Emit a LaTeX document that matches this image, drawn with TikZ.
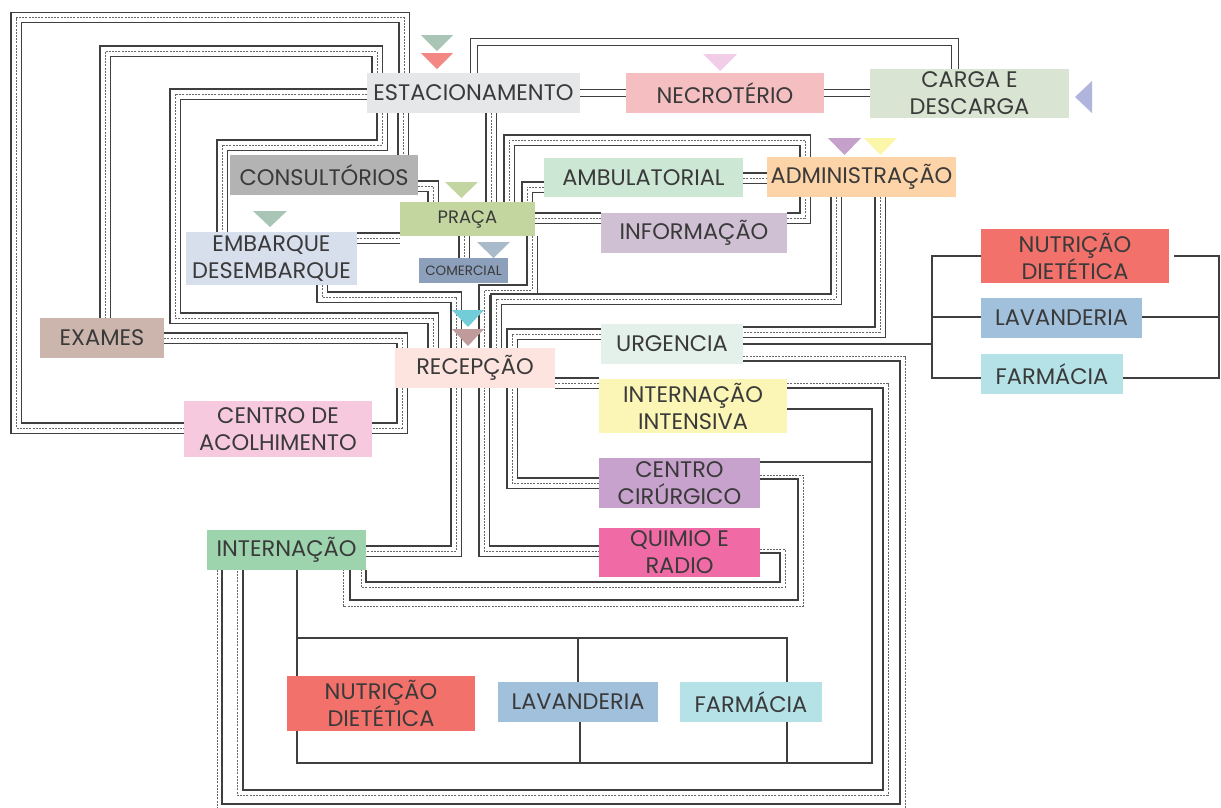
\documentclass[tikz,border=0pt]{standalone}
\usepackage{fontspec}
\setmainfont{Poppins}
\definecolor{rdark}{HTML}{3F3F3F}
\definecolor{rdash}{HTML}{666666}
\definecolor{txt}{HTML}{3A3A3A}
\definecolor{cEstac}{HTML}{E6E7E8}
\definecolor{cNecro}{HTML}{F5BFC2}
\definecolor{cCarga}{HTML}{D9E4D3}
\definecolor{cConsul}{HTML}{B3B3B3}
\definecolor{cPraca}{HTML}{C4D6A0}
\definecolor{cAmbul}{HTML}{CDE7D5}
\definecolor{cAdmin}{HTML}{FDD3A8}
\definecolor{cInfo}{HTML}{CFC0D4}
\definecolor{cEmb}{HTML}{D7DEEC}
\definecolor{cComer}{HTML}{8C9FBB}
\definecolor{cExames}{HTML}{CBB5AD}
\definecolor{cRecep}{HTML}{FDE4DF}
\definecolor{cUrg}{HTML}{E4F0EA}
\definecolor{cIntInt}{HTML}{FBF6B5}
\definecolor{cAcolh}{HTML}{F7C9DE}
\definecolor{cCir}{HTML}{C7A2CC}
\definecolor{cQuimio}{HTML}{F06BA6}
\definecolor{cIntern}{HTML}{9DD4AE}
\definecolor{cNut}{HTML}{F2716A}
\definecolor{cLav}{HTML}{A0C0DB}
\definecolor{cFarm}{HTML}{B5E2E7}
\definecolor{tGreen}{HTML}{A8C5B5}
\definecolor{tRed}{HTML}{F28784}
\definecolor{tPink}{HTML}{F2CDE8}
\definecolor{tLav}{HTML}{B1B5DD}
\definecolor{tPurp}{HTML}{C5A0CB}
\definecolor{tYel}{HTML}{FCF6A9}
\definecolor{tOlive}{HTML}{C3D5A0}
\definecolor{tBlue}{HTML}{A9BBCB}
\definecolor{tCyan}{HTML}{72CDD8}
\definecolor{tBrown}{HTML}{C09B9C}
\newcommand\myfsA{\fontsize{22.5}{27}\selectfont}
\newcommand\myfsB{\fontsize{18}{21}\selectfont}
\newcommand\myfsC{\fontsize{13.5}{16}\selectfont}
\tikzset{
  troad/.style={draw=rdark, line width=11.6pt,
    postaction={draw=white, line width=9pt},
    postaction={draw=rdash, line width=0.8pt, dash pattern=on 2pt off 1.2pt}},
  droad/.style={draw=rdark, line width=8.6pt, postaction={draw=white, line width=6pt}},
  sline/.style={draw=rdark, line width=1.4pt},
  dline/.style={draw=rdash, line width=0.9pt, dash pattern=on 2pt off 1.2pt},
  box/.style={inner sep=0pt, text=txt, align=center, font=\myfsA},
}
\begin{document}
\begin{tikzpicture}[x=1pt,y=-1pt]
\useasboundingbox (0,0) rectangle (1221,807);
% ---------- node frames (named; filled boxes drawn on top later) ----------
\path
 node[box, minimum width=213, minimum height=40] (estac) at (473.5,93) {}
 node[box, minimum width=198, minimum height=40] (necro) at (725,93) {}
 node[box, minimum width=199, minimum height=49] (carga) at (969.5,93.5) {}
 node[box, minimum width=188, minimum height=40] (consul) at (324,175) {}
 node[box, minimum width=135, minimum height=34] (praca) at (467.5,219) {}
 node[box, minimum width=199, minimum height=39] (ambul) at (643.5,177.5) {}
 node[box, minimum width=189, minimum height=40] (admin) at (861.5,177) {}
 node[box, minimum width=186, minimum height=40] (info) at (694,233) {}
 node[box, minimum width=171, minimum height=53] (emb) at (271.5,258.5) {}
 node[box, minimum width=89, minimum height=25] (comer) at (463.5,270.5) {}
 node[box, minimum width=124, minimum height=40] (exames) at (102,338) {}
 node[box, minimum width=160, minimum height=40] (recep) at (475,368) {}
 node[box, minimum width=142, minimum height=40] (urg) at (672,344) {}
 node[box, minimum width=188, minimum height=54] (intint) at (693,406) {}
 node[box, minimum width=188, minimum height=56] (acolh) at (278,429) {}
 node[box, minimum width=161, minimum height=50] (cir) at (679.5,483) {}
 node[box, minimum width=161, minimum height=49] (quimio) at (679.5,552.5) {}
 node[box, minimum width=159, minimum height=40] (intern) at (286.5,550) {}
 node[box, minimum width=188, minimum height=54] (nutR) at (1075,256) {}
 node[box, minimum width=161, minimum height=40] (lavR) at (1061.5,318) {}
 node[box, minimum width=142, minimum height=40] (farmR) at (1052,374) {}
 node[box, minimum width=188, minimum height=55] (nutB) at (381,703.5) {}
 node[box, minimum width=160, minimum height=40] (lavB) at (578,702) {}
 node[box, minimum width=142, minimum height=40] (farmB) at (751,702) {};
\coordinate (j1) at (297,638);
\coordinate (j2) at (578,638);
% ---------- triple roads ----------
\draw[troad] (estac.north -| 404,0) -- (404,17.5) -- (16,17.5) -- (16,428) -- (acolh.west |- 0,428);
\draw[troad] (estac.south -| 403,0) -- (consul.north -| 403,0);
\draw[troad] (estac.north -| 377,0) -- (377,51) -- (105,51) -- (exames.north -| 105,0);
\draw[troad] (estac.west |- 0,94) -- (175,94) -- (175,318) -- (433,318) -- (recep.north -| 433,0);
\draw[troad] (estac.south -| 382,0) -- (382,145) -- (222,145) -- (emb.north -| 222,0);
\draw[troad] (consul.east |- 0,186) -- (433,186) -- (praca.north -| 433,0);
\draw[troad] (emb.east |- 0,238) -- (praca.west |- 0,238);
\draw[troad] (emb.south -| 322,0) -- (322,297) -- (456,297) -- (456,551) -- (intern.east |- 0,551);
\draw[troad] (estac.south -| 491,0) -- (praca.north -| 491,0);
\draw[troad] (praca.south -| 464,0) -- (comer.north -| 464,0);
\draw[troad] (ambul.west |- 0,187) -- (527,187) -- (praca.north -| 527,0);
\draw[troad] (praca.east |- 0,218) -- (info.west |- 0,218);
\draw[troad] (info.east |- 0,218) -- (805,218) -- (805,140) -- (509,140) -- (praca.north -| 509,0);
\draw[troad] (ambul.east |- 0,178) -- (admin.west |- 0,178);
\draw[troad] (praca.south -| 532,0) -- (532,290) -- (484,290) -- (484,551) -- (quimio.west |- 0,551);
\draw[troad] (admin.south -| 836,0) -- (836,299) -- (496,299) -- (recep.north -| 496,0);
\draw[troad] (admin.south -| 880,0) -- (880,332) -- (urg.east |- 0,332);
\draw[troad] (urg.west |- 0,334) -- (512,334) -- (512,483) -- (cir.west |- 0,483);
\draw[troad] (recep.east |- 0,383) -- (intint.west |- 0,383);
\draw[troad] (exames.east |- 0,338) -- (402,338) -- (402,428) -- (acolh.east |- 0,428);
% ---------- double roads ----------
\draw[droad] (estac.east |- 0,93) -- (necro.west |- 0,93);
\draw[droad] (necro.east |- 0,93) -- (carga.west |- 0,93);
\draw[droad] (estac.north -| 474,0) -- (474,42) -- (955,42) -- (carga.north -| 955,0);
% ---------- solid + dashed roads ----------
\draw[sline] (intint.east |- 0,388) -- (883,388) -- (883,790) -- (243,790) -- (intern.south -| 243,0);
\draw[dline] (intint.east |- 0,383.5) -- (888,383.5) -- (888,795) -- (237,795) -- (intern.south -| 237,0);
\draw[sline] (urg.east |- 0,361) -- (900,361) -- (900,804) -- (222,804) -- (intern.south -| 222,0);
\draw[dline] (urg.east |- 0,356.5) -- (905,356.5) -- (905,809) -- (217,809) -- (intern.south -| 217,0);
\draw[sline] (cir.east |- 0,479) -- (798,479) -- (798,600) -- (350,600) -- (intern.south -| 350,0);
\draw[dline] (cir.east |- 0,475) -- (803,475) -- (803,606) -- (343,606) -- (intern.south -| 343,0);
\draw[sline] (quimio.east |- 0,553) -- (780,553) -- (780,582) -- (366,582) -- (intern.south -| 366,0);
\draw[dline] (quimio.east |- 0,549.5) -- (785,549.5) -- (785,587) -- (361,587) -- (intern.south -| 361,0);
% ---------- single lines ----------
\draw[sline] (urg.east |- 0,344) -- (932,344);
\draw[sline] (nutR.west) -- (932,256) -- (932,378) -- (farmR.west |- 0,378);
\draw[sline] (lavR.west |- 0,317) -- (932,317);
\draw[sline] ([xshift=5pt]nutR.east) -- (1219,256) -- (1219,378) -- (farmR.east |- 0,378);
\draw[sline] (lavR.east |- 0,317) -- (1219,317);
\draw[sline] (intint.east |- 0,409) -- (872,409) -- (872,763) -- (297,763) -- (intern.south -| 297,0);
\draw[sline] (cir.east |- 0,462) -- (872,462);
\draw[sline] (j1) -- (787,638) -- (farmB.north -| 787,0);
\draw[sline] (j2) -- (lavB.north -| 578,0);
\draw[sline] (lavB.south -| 580,0) -- (580,763);
\draw[sline] (farmB.south -| 787,0) -- (787,763);
% ---------- boxes ----------
\node[box, fill=cEstac, minimum width=213, minimum height=40] at (estac) {ESTACIONAMENTO};
\node[box, fill=cNecro, minimum width=198, minimum height=40] at (necro) {NECROTÉRIO};
\node[box, fill=cCarga, minimum width=199, minimum height=49] at (carga) {CARGA E\\DESCARGA};
\node[box, fill=cConsul, minimum width=188, minimum height=40] at (consul) {CONSULTÓRIOS};
\node[box, fill=cPraca, minimum width=135, minimum height=34, font=\myfsB] at (praca) {PRAÇA};
\node[box, fill=cAmbul, minimum width=199, minimum height=39] at (ambul) {AMBULATORIAL};
\node[box, fill=cAdmin, minimum width=189, minimum height=40] at (admin) {ADMINISTRAÇÃO};
\node[box, fill=cInfo, minimum width=186, minimum height=40] at (info) {INFORMAÇÃO};
\node[box, fill=cEmb, minimum width=171, minimum height=53] at (emb) {EMBARQUE\\DESEMBARQUE};
\node[box, fill=cComer, minimum width=89, minimum height=25, font=\myfsC] at (comer) {COMERCIAL};
\node[box, fill=cExames, minimum width=124, minimum height=40] at (exames) {EXAMES};
\node[box, fill=cRecep, minimum width=160, minimum height=40] at (recep) {RECEPÇÃO};
\node[box, fill=cUrg, minimum width=142, minimum height=40] at (urg) {URGENCIA};
\node[box, fill=cIntInt, minimum width=188, minimum height=54] at (intint) {INTERNAÇÃO\\INTENSIVA};
\node[box, fill=cAcolh, minimum width=188, minimum height=56] at (acolh) {CENTRO DE\\ACOLHIMENTO};
\node[box, fill=cCir, minimum width=161, minimum height=50] at (cir) {CENTRO\\CIRÚRGICO};
\node[box, fill=cQuimio, minimum width=161, minimum height=49] at (quimio) {QUIMIO E\\RADIO};
\node[box, fill=cIntern, minimum width=159, minimum height=40] at (intern) {INTERNAÇÃO};
\node[box, fill=cNut, minimum width=188, minimum height=54] at (nutR) {NUTRIÇÃO\\DIETÉTICA};
\node[box, fill=cLav, minimum width=161, minimum height=40] at (lavR) {LAVANDERIA};
\node[box, fill=cFarm, minimum width=142, minimum height=40] at (farmR) {FARMÁCIA};
\node[box, fill=cNut, minimum width=188, minimum height=55] at (nutB) {NUTRIÇÃO\\DIETÉTICA};
\node[box, fill=cLav, minimum width=160, minimum height=40] at (lavB) {LAVANDERIA};
\node[box, fill=cFarm, minimum width=142, minimum height=40] at (farmB) {FARMÁCIA};
% ---------- triangle markers ----------
\fill[tGreen] (421,35) -- (453,35) -- (437,51) -- cycle;
\fill[tRed] (421,53) -- (453,53) -- (437,69) -- cycle;
\fill[tPink] (703,54) -- (737,54) -- (720,71) -- cycle;
\fill[tLav] (1092,81) -- (1092,113) -- (1075,97) -- cycle;
\fill[tPurp] (828,138) -- (861,138) -- (844.5,155) -- cycle;
\fill[tYel] (864,138) -- (897,138) -- (880.5,155) -- cycle;
\fill[tOlive] (445,182) -- (478,182) -- (461.5,198) -- cycle;
\fill[tGreen] (253,211) -- (287,211) -- (270,227) -- cycle;
\fill[tBlue] (477,242) -- (510,242) -- (493.5,258) -- cycle;
\fill[tCyan] (452,310) -- (484,310) -- (468,327) -- cycle;
\fill[tBrown] (452,329) -- (484,329) -- (468,346) -- cycle;
\end{tikzpicture}
\end{document}
